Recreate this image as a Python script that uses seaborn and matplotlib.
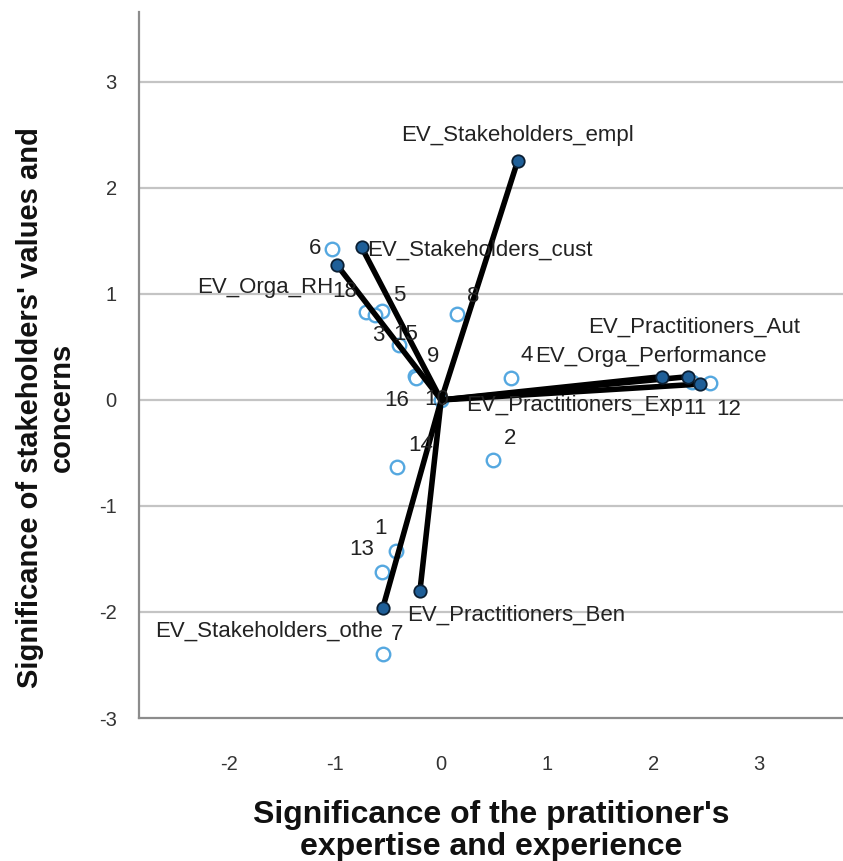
import pandas as pd
import numpy as np
import seaborn as sns
import matplotlib.pyplot as plt

# Biplot : objets (points creux) et variables (vecteurs depuis l'origine)
obj_labels = ['1', '2', '3', '4', '5', '6', '7', '8', '9', '10',
              '11', '12', '13', '14', '15', '16', '18']
obj_x = [-0.43, 0.49, -0.71, 0.66, -0.56, -1.03, -0.55, 0.15, -0.25, 0.0,
         2.37, 2.54, -0.56, -0.42, -0.40, -0.24, -0.62]
obj_y = [-1.42, -0.57, 0.83, 0.21, 0.84, 1.42, -2.40, 0.81, 0.23, 0.0,
         0.17, 0.16, -1.62, -0.63, 0.52, 0.21, 0.80]

var_names = ['EV_Stakeholders_empl', 'EV_Stakeholders_cust', 'EV_Orga_RH',
             'EV_Practitioners_Aut', 'EV_Orga_Performance', 'EV_Practitioners_Exp',
             'EV_Practitioners_Ben', 'EV_Stakeholders_othe']
var_x = [0.72, -0.75, -0.98, 2.33, 2.08, 2.44, -0.20, -0.55]
var_y = [2.25, 1.44, 1.27, 0.22, 0.22, 0.15, -1.80, -1.96]

y_ticks = [-3, -2, -1, 0, 1, 2, 3]
x_ticks = [-2, -1, 0, 1, 2, 3]

# placement des étiquettes (décalage en pixels, alignement)
obj_offsets = [(-15, 22), (17, 22), (12, -24), (16, 22), (17, 15), (-17, 1),
               (14, 20), (16, 18), (18, 19), (-4, 0), (2, -27), (18, -26),
               (-20, 22), (24, 21), (7, 10), (-19, -23), (-31, 24)]
var_offsets = [(0, 26, 'center'), (5, -3, 'left'), (-4, -22, 'right'),
               (-100, 49, 'left'), (-127, 20, 'left'), (-17, -21, 'right'),
               (-13, -24, 'left'), (0, -23, 'right')]

objets = pd.DataFrame({'x': obj_x, 'y': obj_y, 'label': obj_labels})
variables = pd.DataFrame({'x': var_x, 'y': var_y, 'var': var_names})
vecteurs = pd.DataFrame({
    'x': np.concatenate([np.zeros(len(var_x)), var_x]),
    'y': np.concatenate([np.zeros(len(var_y)), var_y]),
    'var': var_names * 2,
})

sns.set_style("white")
plt.rcParams['font.family'] = ['Liberation Sans', 'DejaVu Sans']
plt.rcParams['axes.unicode_minus'] = False

fig = plt.figure(figsize=(8.43, 8.61), dpi=100)
ax = fig.add_axes([139 / 843, 143 / 861, 704 / 843, 706 / 861])

for yv in y_ticks[1:]:
    ax.axhline(yv, color='#c4c4c4', lw=1.6, zorder=0)

sns.scatterplot(data=objets, x='x', y='y', ax=ax, s=95, marker='o',
                facecolor='white', edgecolor='#55a8e0', linewidth=1.7, zorder=2)
sns.lineplot(data=vecteurs, x='x', y='y', units='var', estimator=None, sort=False,
             color='black', lw=4.0, ax=ax, zorder=3)
sns.scatterplot(data=variables, x='x', y='y', ax=ax, s=80, marker='o',
                color='#1f5f98', edgecolor='#0b1f33', linewidth=1.3, zorder=4)

for (lx, ly, lab), (dx, dy) in zip(zip(obj_x, obj_y, obj_labels), obj_offsets):
    ax.annotate(lab, (lx, ly), xytext=(dx, dy), textcoords='offset pixels',
                ha='center', va='center', fontsize=16, color='#222222', zorder=5)

for (vx, vy, name), (dx, dy, ha) in zip(zip(var_x, var_y, var_names), var_offsets):
    ax.annotate(name, (vx, vy), xytext=(dx, dy), textcoords='offset pixels',
                ha=ha, va='center', fontsize=16, color='#222222', zorder=5)

ax.set_xlim(-2.85, 3.79)
ax.set_ylim(-3.0, 3.66)
ax.set_xticks(x_ticks)
ax.set_yticks(y_ticks)
ax.tick_params(axis='both', length=0, labelsize=14.5, colors='#333333')
ax.tick_params(axis='y', pad=16)
ax.tick_params(axis='x', pad=27)

for side in ['top', 'right']:
    ax.spines[side].set_visible(False)
for side in ['left', 'bottom']:
    ax.spines[side].set_color('#8c8c8c')
    ax.spines[side].set_linewidth(1.6)

xl = ax.set_xlabel("Significance of the pratitioner's\nexpertise and experience",
                   fontsize=23, fontweight='bold', color='#111111', linespacing=1.1)
xl.set_verticalalignment('center')
ax.xaxis.set_label_coords(0.5, -0.16)
yl = ax.set_ylabel("Significance of stakeholders' values and\nconcerns",
                   fontsize=21, fontweight='bold', color='#111111', linespacing=1.15)
yl.set_verticalalignment('center')
ax.yaxis.set_label_coords(-0.132, 0.44)

plt.savefig('out.png', dpi=100)
